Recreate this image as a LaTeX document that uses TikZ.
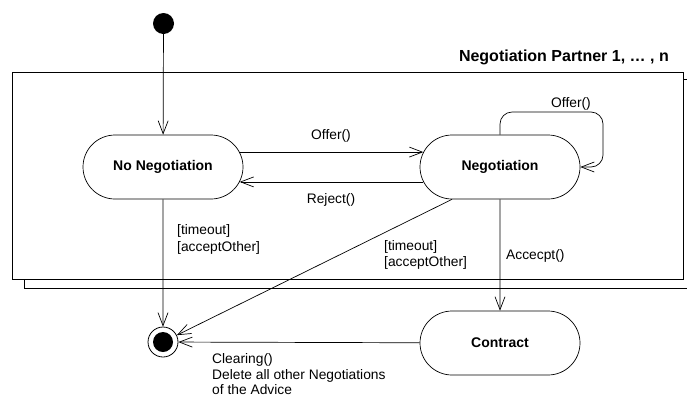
\documentclass[tikz,border=0pt]{standalone}
\usepackage{fontspec}
\setmainfont{Liberation Sans}
\usetikzlibrary{arrows.meta,shapes.misc}

\begin{document}
\begin{tikzpicture}[x=1pt,y=-1pt,
  stbox/.style={rounded rectangle, draw, line width=0.7pt, fill=white,
    minimum width=160pt, minimum height=64pt, inner sep=0pt,
    font=\fontsize{14}{16}\selectfont\bfseries},
  arr/.style={-{Straight Barb[length=13pt,width=10pt,line width=0.7pt]}, line width=0.7pt},
  lbl/.style={inner sep=0pt, font=\fontsize{13.8}{17}\selectfont},
  frame/.style={draw, line width=0.9pt}]

\useasboundingbox (0,0) rectangle (687,397);

% stacked frames for the multiple negotiation partners
\path[frame] (24,79) rectangle (700,288);
\path[frame, fill=white] (12,72) rectangle (683,279);
\node[anchor=east, inner sep=0pt, font=\fontsize{16}{18}\selectfont\bfseries]
  (title) at (669,57) {Negotiation Partner 1, \dots\ , n};

% states
\node[circle, fill=black, minimum size=21pt, inner sep=0pt] (ini) at (163.5,23.5) {};
\node[stbox] (nn)  at (163,167) {No Negotiation};
\node[stbox] (neg) at (500,167) {Negotiation};
\node[stbox] (con) at (500,343) {Contract};
\node[circle, draw, line width=0.8pt, minimum size=30pt, inner sep=0pt] (fin) at (163,342) {};
\fill (fin) circle (10pt);

% transitions
\draw[arr] (ini) -- (nn);
\draw[arr] (nn.11) -- (neg.169);
\draw[arr] (neg.191) -- (nn.349);
\draw[arr, rounded corners=12pt] (neg.north) |- (603,112) |- (neg.east);
\draw[arr] (neg) -- (con);
\draw[arr] (nn) -- (fin);
\draw[arr] ([xshift=-48pt]neg.south) -- (fin);
\draw[arr] (con) -- (fin);

% labels
\node[lbl] (lOffer) at (331,136) {Offer()};
\node[lbl] (lReject) at (331,200) {Reject()};
\node[lbl] (lLoop) at (571,104) {Offer()};
\node[lbl, anchor=west, align=left] (lGuardA) at (177,239) {[timeout]\\{}[acceptOther]};
\node[lbl, anchor=west, align=left, font=\fontsize{13.8}{16}\selectfont]
  (lGuardB) at (384,255) {[timeout]\\{}[acceptOther]};
\node[lbl, anchor=west] (lAcc) at (506,256) {Accecpt()};
\node[lbl, anchor=west, align=left, font=\fontsize{13.8}{15.5}\selectfont]
  (lClear) at (212,374.5) {Clearing()\\Delete all other Negotiations\\of the Advice};
\end{tikzpicture}
\end{document}
